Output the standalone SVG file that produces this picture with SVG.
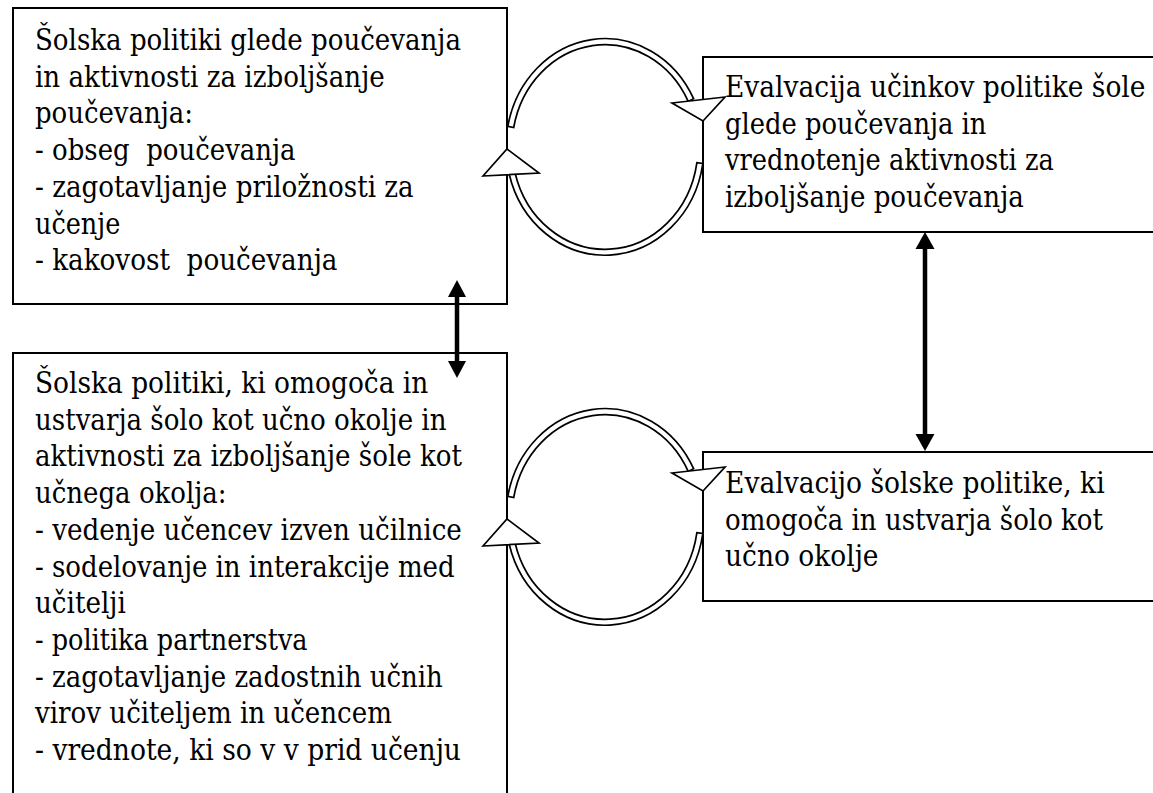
<svg xmlns="http://www.w3.org/2000/svg" width="1153" height="793" viewBox="0 0 1153 793">
<style>
.box{fill:#fff;stroke:#000;stroke-width:2}
.t{font-family:"DejaVu Serif Condensed","DejaVu Serif","Liberation Serif",serif;font-stretch:condensed;font-size:29.5px;fill:#000;white-space:pre}
.band{fill:#fff;stroke:#000;stroke-width:1.7;stroke-linejoin:miter}
.shaft{stroke:#000;stroke-width:4.5;fill:none}
.head{fill:#000;stroke:none}
</style>
<defs>
<g id="cycle">
<path class="band" d="M507.8,126.4 A99,108.5 0 0 1 693.6,98.7 L688.2,101.4 A93,102.5 0 0 0 513.7,127.5 Z"/>
<polygon class="band" points="672,103 725,97 703,121"/>
<path class="band" d="M702.8,163.5 A99,108.5 0 0 1 509.1,173.7 L514.9,172.2 A93,102.5 0 0 0 696.9,162.6 Z"/>
<polygon class="band" points="483,176 539,173 507,149"/>
</g>
</defs>
<rect width="1153" height="793" fill="#fff"/>
<g id="node-policy-teaching">
<rect class="box" x="13" y="8" width="494" height="296"/>
<text class="t" x="35" y="50" textLength="426" lengthAdjust="spacingAndGlyphs">Šolska politiki glede poučevanja</text>
<text class="t" x="35" y="86.7" textLength="349.7" lengthAdjust="spacingAndGlyphs">in aktivnosti za izboljšanje</text>
<text class="t" x="35" y="123.4" textLength="158" lengthAdjust="spacingAndGlyphs">poučevanja:</text>
<text class="t" x="35" y="160.1" textLength="260.6" lengthAdjust="spacingAndGlyphs">- obseg  poučevanja</text>
<text class="t" x="35" y="196.8" textLength="378.7" lengthAdjust="spacingAndGlyphs">- zagotavljanje priložnosti za</text>
<text class="t" x="35" y="233.5" textLength="85.3" lengthAdjust="spacingAndGlyphs">učenje</text>
<text class="t" x="35" y="270.2" textLength="302.4" lengthAdjust="spacingAndGlyphs">- kakovost  poučevanja</text>
</g>
<g id="node-policy-environment">
<rect class="box" x="13" y="353" width="494" height="460"/>
<text class="t" x="35" y="393" textLength="393.3" lengthAdjust="spacingAndGlyphs">Šolska politiki, ki omogoča in</text>
<text class="t" x="35" y="429.7" textLength="411.5" lengthAdjust="spacingAndGlyphs">ustvarja šolo kot učno okolje in</text>
<text class="t" x="35" y="466.4" textLength="426.9" lengthAdjust="spacingAndGlyphs">aktivnosti za izboljšanje šole kot</text>
<text class="t" x="35" y="503.1" textLength="191.6" lengthAdjust="spacingAndGlyphs">učnega okolja:</text>
<text class="t" x="35" y="539.8" textLength="426.8" lengthAdjust="spacingAndGlyphs">- vedenje učencev izven učilnice</text>
<text class="t" x="35" y="576.5" textLength="419.6" lengthAdjust="spacingAndGlyphs">- sodelovanje in interakcije med</text>
<text class="t" x="35" y="613.2" textLength="90.8" lengthAdjust="spacingAndGlyphs">učitelji</text>
<text class="t" x="35" y="649.9" textLength="272.5" lengthAdjust="spacingAndGlyphs">- politika partnerstva</text>
<text class="t" x="35" y="686.6" textLength="407.8" lengthAdjust="spacingAndGlyphs">- zagotavljanje zadostnih učnih</text>
<text class="t" x="35" y="723.3" textLength="356.9" lengthAdjust="spacingAndGlyphs">virov učiteljem in učencem</text>
<text class="t" x="35" y="760" textLength="426" lengthAdjust="spacingAndGlyphs">- vrednote, ki so v v prid učenju</text>
</g>
<g id="node-eval-teaching">
<rect class="box" x="703" y="57" width="460" height="175"/>
<text class="t" x="725" y="97" textLength="420.5" lengthAdjust="spacingAndGlyphs">Evalvacija učinkov politike šole</text>
<text class="t" x="725" y="133.7" textLength="261.5" lengthAdjust="spacingAndGlyphs">glede poučevanja in</text>
<text class="t" x="725" y="170.4" textLength="328.8" lengthAdjust="spacingAndGlyphs">vrednotenje aktivnosti za</text>
<text class="t" x="725" y="207.1" textLength="298.8" lengthAdjust="spacingAndGlyphs">izboljšanje poučevanja</text>
</g>
<g id="node-eval-environment">
<rect class="box" x="703" y="452" width="460" height="149"/>
<text class="t" x="725" y="493" textLength="379.7" lengthAdjust="spacingAndGlyphs">Evalvacijo šolske politike, ki</text>
<text class="t" x="725" y="529.7" textLength="377.9" lengthAdjust="spacingAndGlyphs">omogoča in ustvarja šolo kot</text>
<text class="t" x="725" y="566.4" textLength="153.5" lengthAdjust="spacingAndGlyphs">učno okolje</text>
</g>
<g id="connectors">
<use href="#cycle"/>
<use href="#cycle" transform="translate(0,370)"/>
<line class="shaft" x1="457" y1="294" x2="457" y2="364"/>
<polygon class="head" points="457,280 466,297 448,297"/>
<polygon class="head" points="457,378 466,361 448,361"/>
<line class="shaft" x1="925" y1="246" x2="925" y2="436"/>
<polygon class="head" points="925,232 934.5,249 915.5,249"/>
<polygon class="head" points="925,451 934.5,434 915.5,434"/>
</g>
</svg>
